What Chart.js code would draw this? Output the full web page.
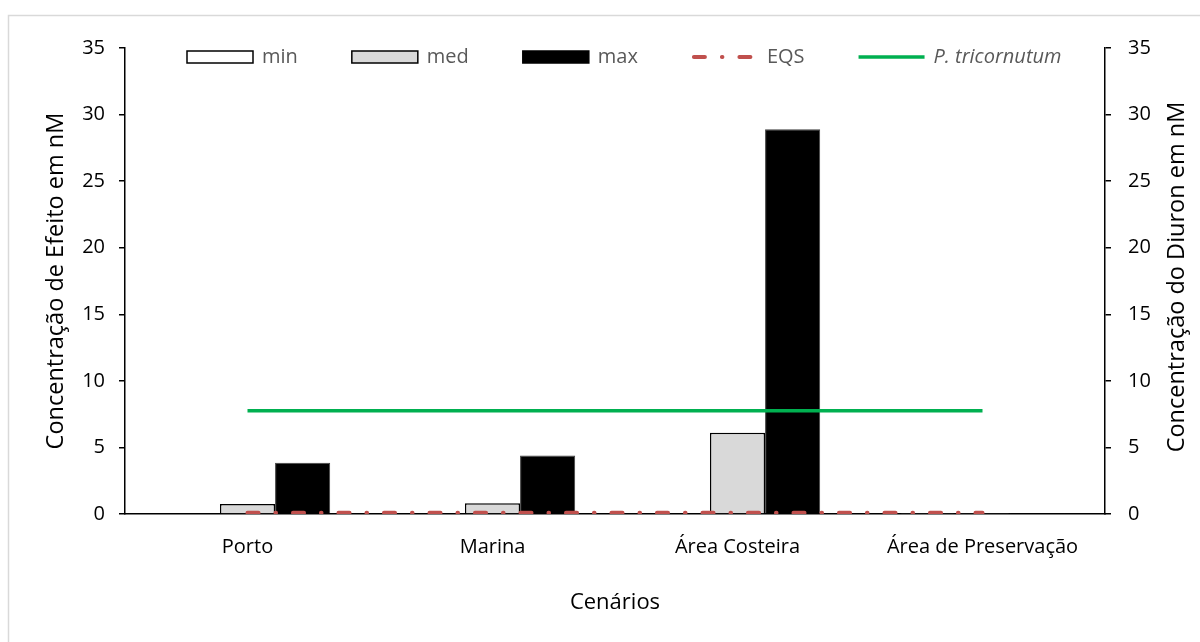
<!DOCTYPE html>
<html>
<head>
<meta charset="utf-8">
<script src="https://cdn.jsdelivr.net/npm/chart.js@4"></script>
<style>
  html, body { margin: 0; padding: 0; background: #fff; }
  #wrap { width: 1200px; height: 642px; }
</style>
</head>
<body>
<div id="wrap"><canvas id="chart"></canvas></div>
<script>
const categories = ["Porto", "Marina", "Área Costeira", "Área de Preservação"];
const minValues  = [0.05, 0.05, 0.05, 0.03];
const medValues  = [0.75, 0.8, 6.1, 0.03];
const maxValues  = [3.85, 4.4, 28.9, 0.03];
const eqsValues  = [0.1, 0.1, 0.1, 0.1];
const ptriValues = [7.75, 7.75, 7.75, 7.75];
const yTicks     = [0, 5, 10, 15, 20, 25, 30, 35];
const rightTitle = "Concentração do Diuron em nM";

const FONT = "'Open Sans', 'Noto Sans', sans-serif";

// moldura cinza + título do eixo direito (lido de baixo para cima)
const framePlugin = {
    id: "frame",
    beforeDraw(chart) {
        const ctx = chart.ctx;
        ctx.save();
        ctx.strokeStyle = "#d9d9d9";
        ctx.lineWidth = 1.5;
        ctx.strokeRect(8.5, 15.5, 1300, 700);
        ctx.restore();
    },
    afterDraw(chart) {
        const ctx = chart.ctx;
        const a = chart.chartArea;
        ctx.save();
        ctx.translate(1177, (a.top + a.bottom) / 2 - 4);
        ctx.rotate(-Math.PI / 2);
        ctx.font = "23.5px " + FONT;
        ctx.fillStyle = "#000";
        ctx.textAlign = "center";
        ctx.textBaseline = "middle";
        ctx.fillText(rightTitle, 0, 0);
        ctx.restore();
    }
};

// legenda desenhada dentro da área do gráfico
const legendPlugin = {
    id: "innerLegend",
    afterDraw(chart) {
        const ctx = chart.ctx;
        const items = chart.data.datasets;
        let x = 187;
        const y = 57;
        ctx.save();
        ctx.textBaseline = "middle";
        items.forEach(d => {
            const italic = d.label.startsWith("P.");
            if (d.type === "line") {
                ctx.beginPath();
                ctx.strokeStyle = d.borderColor;
                ctx.lineWidth = d.borderWidth;
                ctx.lineCap = d.borderDash ? "round" : "butt";
                ctx.setLineDash(d.borderDash || []);
                ctx.moveTo(x + (d.borderDash ? 2 : 0), y);
                ctx.lineTo(x + 66, y);
                ctx.stroke();
                ctx.setLineDash([]);
            } else {
                ctx.fillStyle = d.backgroundColor;
                ctx.fillRect(x, y - 6, 66, 12);
                ctx.strokeStyle = "#000";
                ctx.lineWidth = 1.5;
                ctx.strokeRect(x, y - 6, 66, 12);
            }
            ctx.font = (italic ? "italic " : "") + "20px " + FONT;
            ctx.fillStyle = "#595959";
            ctx.fillText(d.label, x + 75, y);
            x += 75 + ctx.measureText(d.label).width + 54;
        });
        ctx.restore();
    }
};

new Chart(document.getElementById("chart"), {
    data: {
        labels: categories,
        datasets: [
            {
                type: "bar", label: "min", data: minValues,
                backgroundColor: "#ffffff", borderColor: "#000000", borderWidth: 1.5,
                order: 2, yAxisID: "y"
            },
            {
                type: "bar", label: "med", data: medValues,
                backgroundColor: "#d9d9d9", borderColor: "#000000", borderWidth: 1.5,
                order: 2, yAxisID: "y"
            },
            {
                type: "bar", label: "max", data: maxValues,
                backgroundColor: "#000000", borderColor: "#404040", borderWidth: 1,
                order: 2, yAxisID: "y"
            },
            {
                type: "line", label: "EQS", data: eqsValues,
                borderColor: "#c0504d", borderWidth: 4, borderDash: [11, 17, 0.5, 17],
                borderCapStyle: "round", pointRadius: 0, fill: false,
                order: 0, yAxisID: "y"
            },
            {
                type: "line", label: "P. tricornutum", data: ptriValues,
                borderColor: "#00b050", borderWidth: 3.5, pointRadius: 0, fill: false,
                order: 1, yAxisID: "y"
            }
        ]
    },
    options: {
        responsive: true,
        maintainAspectRatio: false,
        animation: false,
        datasets: { bar: { barPercentage: 1, categoryPercentage: 0.675 } },
        layout: { padding: { left: 42, right: 14, top: 48, bottom: 22 } },
        plugins: {
            legend: { display: false },
            tooltip: { enabled: false }
        },
        scales: {
            x: {
                offset: true,
                grid: { display: false, drawTicks: false },
                border: { display: true, color: "#000", width: 1.5 },
                ticks: { color: "#000", font: { family: FONT, size: 20 }, padding: 21, maxRotation: 0 },
                title: { display: true, text: "Cenários", color: "#000", font: { family: FONT, size: 22 }, padding: { top: 20 } },
                afterFit: s => { s.height = 106; }
            },
            y: {
                position: "left",
                min: 0, max: 35,
                afterBuildTicks: s => { s.ticks = yTicks.map(v => ({ value: v })); },
                grid: { drawOnChartArea: false, drawTicks: true, tickLength: 6, color: "#000", lineWidth: 1.5 },
                border: { display: true, color: "#000", width: 1.5 },
                ticks: { color: "#000", font: { family: FONT, size: 20 }, padding: 14 },
                title: { display: true, text: "Concentração de Efeito em nM", color: "#000", font: { family: FONT, size: 23.5 }, padding: 0 },
                afterFit: s => { s.width = 83; }
            },
            y2: {
                position: "right",
                min: 0, max: 35,
                afterBuildTicks: s => { s.ticks = yTicks.map(v => ({ value: v })); },
                grid: { drawOnChartArea: false, drawTicks: true, tickLength: 6, color: "#000", lineWidth: 1.5 },
                border: { display: true, color: "#000", width: 1.5 },
                ticks: { color: "#000", font: { family: FONT, size: 20 }, padding: 17 },
                afterFit: s => { s.width = 81; }
            }
        }
    },
    plugins: [framePlugin, legendPlugin]
});
</script>
</body>
</html>
